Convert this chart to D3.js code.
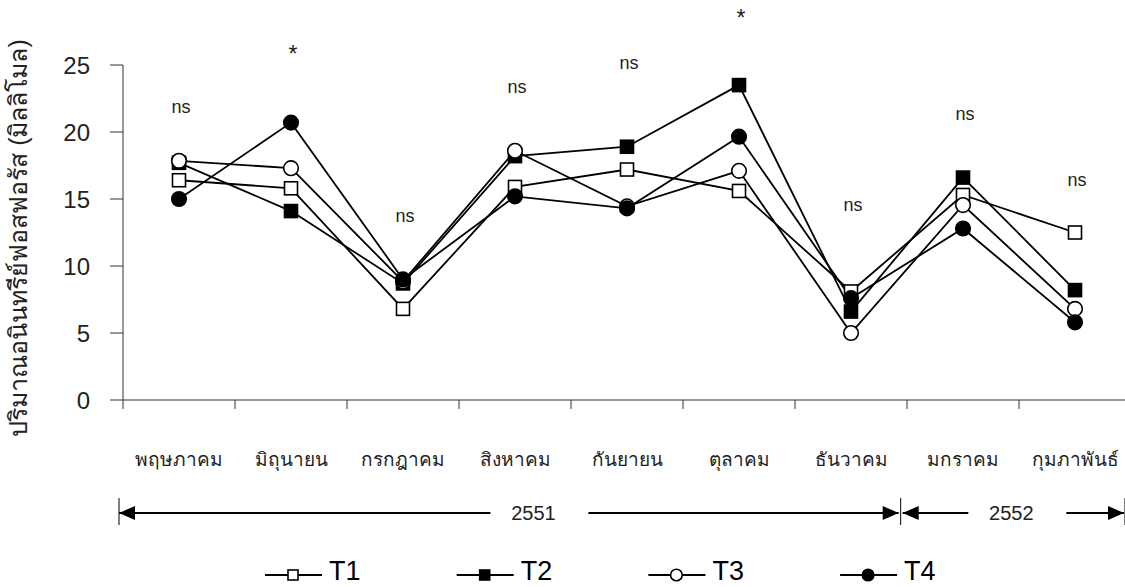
<!DOCTYPE html>
<html>
<head>
<meta charset="utf-8">
<script src="https://cdn.jsdelivr.net/npm/d3@7"></script>
<style>
    body { margin: 0; background: #fff; }
    svg { display: block; }
    text { font-family: "Liberation Sans", Arial, sans-serif; }
</style>
</head>
<body>
<svg id="chart" width="1125" height="587"></svg>
<script>
var months = ['พฤษภาคม', 'มิถุนายน', 'กรกฎาคม', 'สิงหาคม', 'กันยายน', 'ตุลาคม', 'ธันวาคม', 'มกราคม', 'กุมภาพันธ์'];
var t1 = [16.4, 15.8, 6.8, 15.9, 17.2, 15.6, 8.1, 15.3, 12.5];
var t2 = [17.7, 14.1, 8.7, 18.2, 18.9, 23.5, 6.6, 16.6, 8.2];
var t3 = [17.85, 17.3, 8.85, 18.6, 14.45, 17.1, 5.0, 14.55, 6.8];
var t4 = [15.0, 20.7, 9.0, 15.2, 14.3, 19.65, 7.6, 12.8, 5.8];
var seriesNames = ['T1', 'T2', 'T3', 'T4'];
var signif = ['ns', '*', 'ns', 'ns', 'ns', '*', 'ns', 'ns', 'ns'];
var signifAt = [21.4, 25.2, 13.3, 22.9, 24.7, 27.9, 14.1, 20.9, 16.0];
var yTicks = [0, 5, 10, 15, 20, 25];
var years = ['2551', '2552'];
var yearFrom = [0, 7];
var yearTo = [7, 9];
var yearLabelAt = [3.72, 8.0];
var yLabel = 'ปริมาณอนินทรีย์ฟอสฟอรัส (มิลลิโมล)';

var allSeries = [t1, t2, t3, t4].map(function (vals, i) {
    return {name: seriesNames[i], values: vals};
});
var style = {
    T1: {shape: 'square', fill: '#fff'},
    T2: {shape: 'square', fill: '#000'},
    T3: {shape: 'circle', fill: '#fff'},
    T4: {shape: 'circle', fill: '#000'}
};

var svg = d3.select('#chart');
var plotLeft = 123, plotTop = 65, plotBottom = 400;

var xScale = d3.scaleBand().domain(months).range([plotLeft, plotLeft + 112 * months.length]).padding(0);
var yScale = d3.scaleLinear().domain([0, 25]).range([plotBottom, plotTop]);
function cx(m) { return xScale(m) + xScale.bandwidth() / 2; }

// y axis
var yAxis = svg.append('g');
yAxis.append('line')
    .attr('x1', plotLeft).attr('x2', plotLeft)
    .attr('y1', plotTop).attr('y2', plotBottom + 9)
    .attr('stroke', '#333').attr('stroke-width', 1);
yAxis.selectAll('.ytick').data(yTicks).enter().append('line')
    .attr('x1', plotLeft - 13).attr('x2', plotLeft)
    .attr('y1', function (d) { return yScale(d); })
    .attr('y2', function (d) { return yScale(d); })
    .attr('stroke', '#333').attr('stroke-width', 1);
yAxis.selectAll('.ylab').data(yTicks).enter().append('text')
    .attr('x', 90)
    .attr('y', function (d) { return yScale(d); })
    .attr('dy', '0.36em')
    .attr('text-anchor', 'end')
    .attr('font-size', 24)
    .attr('fill', '#222')
    .text(function (d) { return d; });

// x axis
var xAxis = svg.append('g');
xAxis.append('line')
    .attr('x1', plotLeft).attr('x2', 1125)
    .attr('y1', plotBottom).attr('y2', plotBottom)
    .attr('stroke', '#333').attr('stroke-width', 1);
xAxis.selectAll('.xtick').data(months.slice(1)).enter().append('line')
    .attr('x1', function (d) { return xScale(d); })
    .attr('x2', function (d) { return xScale(d); })
    .attr('y1', plotBottom).attr('y2', plotBottom + 9)
    .attr('stroke', '#333').attr('stroke-width', 1);
xAxis.selectAll('.xlab').data(months).enter().append('text')
    .attr('x', function (d) { return cx(d); })
    .attr('y', 466)
    .attr('text-anchor', 'middle')
    .attr('font-size', 19)
    .attr('fill', '#222')
    .text(function (d) { return d; });

// y label
svg.append('text')
    .attr('transform', 'translate(27,238) rotate(-90)')
    .attr('text-anchor', 'middle')
    .attr('font-size', 25)
    .attr('fill', '#222')
    .text(yLabel);

// lines
var line = d3.line()
    .x(function (d, i) { return cx(months[i]); })
    .y(function (d) { return yScale(d); });

svg.selectAll('.series').data(allSeries).enter().append('path')
    .attr('d', function (d) { return line(d.values); })
    .attr('fill', 'none')
    .attr('stroke', '#000')
    .attr('stroke-width', 1.8);

function drawMarker(g, name, x, y, size) {
    var s = style[name];
    if (s.shape === 'square') {
        g.append('rect')
            .attr('x', x - size / 2).attr('y', y - size / 2)
            .attr('width', size).attr('height', size)
            .attr('fill', s.fill).attr('stroke', '#000').attr('stroke-width', 1.6);
    } else {
        g.append('circle')
            .attr('cx', x).attr('cy', y).attr('r', size / 2 + 0.8)
            .attr('fill', s.fill).attr('stroke', '#000').attr('stroke-width', 1.6);
    }
}

var markers = svg.append('g');
allSeries.forEach(function (ser) {
    ser.values.forEach(function (v, i) {
        drawMarker(markers, ser.name, cx(months[i]), yScale(v), 13);
    });
});

// significance labels
svg.selectAll('.sig').data(signif).enter().append('text')
    .attr('x', function (d, i) { return cx(months[i]) + 2; })
    .attr('y', function (d, i) { return yScale(signifAt[i]); })
    .attr('text-anchor', 'middle')
    .attr('font-size', function (d) { return d === '*' ? 23 : 18; })
    .attr('fill', '#222')
    .text(function (d) { return d; });

// year brackets
var yearScale = d3.scaleLinear().domain([0, 9]).range([119, 1124]);
var yy = 513;
var brackets = svg.append('g');
years.forEach(function (yr, i) {
    var x0 = yearScale(yearFrom[i]), x1 = yearScale(yearTo[i]) - (i === 0 ? 2 : 0);
    if (i === 1) x0 = x0 + 2;
    var xl = yearScale(yearLabelAt[i]);
    brackets.append('line').attr('x1', x0).attr('x2', xl - 44).attr('y1', yy).attr('y2', yy)
        .attr('stroke', '#000').attr('stroke-width', 2);
    brackets.append('line').attr('x1', xl + 54).attr('x2', x1).attr('y1', yy).attr('y2', yy)
        .attr('stroke', '#000').attr('stroke-width', 2);
    brackets.append('path')
        .attr('d', 'M' + x0 + ',' + yy + 'L' + (x0 + 16) + ',' + (yy - 7) + 'L' + (x0 + 16) + ',' + (yy + 7) + 'Z')
        .attr('fill', '#000');
    brackets.append('path')
        .attr('d', 'M' + x1 + ',' + yy + 'L' + (x1 - 16) + ',' + (yy - 7) + 'L' + (x1 - 16) + ',' + (yy + 7) + 'Z')
        .attr('fill', '#000');
    brackets.append('text')
        .attr('x', xl - 1).attr('y', yy)
        .attr('dy', '0.36em')
        .attr('text-anchor', 'middle')
        .attr('font-size', 20)
        .attr('fill', '#222')
        .text(yr);
});
[0, 7, 9].forEach(function (k) {
    var bx = yearScale(k) + (k === 9 ? 1 : 0);
    brackets.append('line').attr('x1', bx).attr('x2', bx)
        .attr('y1', yy - 15).attr('y2', yy + 12)
        .attr('stroke', '#000').attr('stroke-width', 1);
});

// legend
var legend = svg.append('g');
seriesNames.forEach(function (name, i) {
    var lx = 265 + i * 191.7, ly = 575;
    legend.append('line').attr('x1', lx).attr('x2', lx + 57).attr('y1', ly).attr('y2', ly)
        .attr('stroke', '#000').attr('stroke-width', 2);
    drawMarker(legend, name, lx + 28, ly, 10);
    legend.append('text')
        .attr('x', lx + 64).attr('y', 580)
        .attr('font-family', '"Liberation Sans Narrow", "Liberation Sans", Arial, sans-serif')
        .attr('font-size', 27)
        .attr('fill', '#000')
        .text(name);
});
</script>
</body>
</html>
